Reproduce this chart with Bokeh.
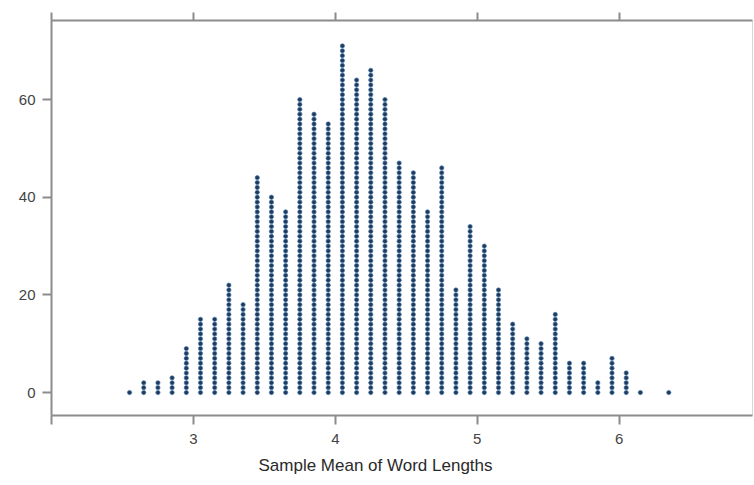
from bokeh.plotting import figure
from bokeh.models import LinearAxis, FixedTicker, Range1d, Title, ColumnDataSource
from bokeh.embed import file_html
from bokeh.resources import INLINE

# --- data ---
bin_centers = [2.55, 2.65, 2.75, 2.85, 2.95, 3.05, 3.15, 3.25, 3.35, 3.45,
               3.55, 3.65, 3.75, 3.85, 3.95, 4.05, 4.15, 4.25, 4.35, 4.45,
               4.55, 4.65, 4.75, 4.85, 4.95, 5.05, 5.15, 5.25, 5.35, 5.45,
               5.55, 5.65, 5.75, 5.85, 5.95, 6.05, 6.15, 6.35]
dot_counts = [1, 3, 3, 4, 10, 16, 16, 23, 19, 45,
              41, 38, 61, 58, 56, 72, 65, 67, 61, 48,
              46, 38, 47, 22, 35, 31, 22, 15, 12, 11,
              17, 7, 7, 3, 8, 5, 1, 1]
x_ticks = [2, 3, 4, 5, 6]
x_tick_labels = {2: "", 3: "3", 4: "4", 5: "5", 6: "6"}
y_ticks = [0, 20, 40, 60]
x_label = "Sample Mean of Word Lengths"

xs, ys = [], []
for c, n in zip(bin_centers, dot_counts):
    for k in range(n):
        xs.append(c)
        ys.append(k)
src = ColumnDataSource(dict(x=xs, y=ys))

FONT = "Liberation Sans"
AX = "#8c8c8c"

p = figure(width=754, height=483, output_backend="svg", toolbar_location=None,
           x_range=Range1d(2.0, 6.94), y_range=Range1d(-4.7, 76.2),
           x_axis_location=None, y_axis_location=None,
           min_border_left=51, min_border_right=2, min_border_top=20, min_border_bottom=68)
p.grid.visible = False
p.outline_line_color = "#d8d8d8"
p.outline_line_width = 1
p.background_fill_color = "white"
p.border_fill_color = "white"

def style(ax, labels=True):
    ax.axis_line_color = AX
    ax.axis_line_width = 2
    ax.major_tick_line_color = AX
    ax.major_tick_line_width = 2
    ax.major_tick_out = 9
    ax.major_tick_in = 0
    ax.minor_tick_line_color = None
    ax.major_label_text_font = FONT
    ax.major_label_text_font_size = "15px"
    ax.major_label_text_color = "#444444"
    if not labels:
        ax.major_label_text_alpha = 0
        ax.major_label_text_font_size = "1px"
        ax.major_label_standoff = 0

bottom = LinearAxis(ticker=FixedTicker(ticks=x_ticks), major_label_overrides=x_tick_labels)
style(bottom)
bottom.major_label_standoff = 9
p.add_layout(bottom, "below")

top = LinearAxis(ticker=FixedTicker(ticks=x_ticks))
style(top, labels=False)
top.major_tick_out = 8
p.add_layout(top, "above")

left = LinearAxis(ticker=FixedTicker(ticks=y_ticks))
style(left)
left.major_label_standoff = 7
p.add_layout(left, "left")

p.scatter("x", "y", source=src, marker="circle", size=4.3,
          fill_color="#1f3a5a", line_color="#4a7aaa", line_width=0.7)

t = Title(text=x_label, align="left", offset=207, text_font=FONT,
          text_font_size="17px", text_font_style="normal", text_color="#2a2a2a",
          standoff=15, vertical_align="bottom")
p.add_layout(t, "below")

open("out.html", "w").write(file_html(p, INLINE))
